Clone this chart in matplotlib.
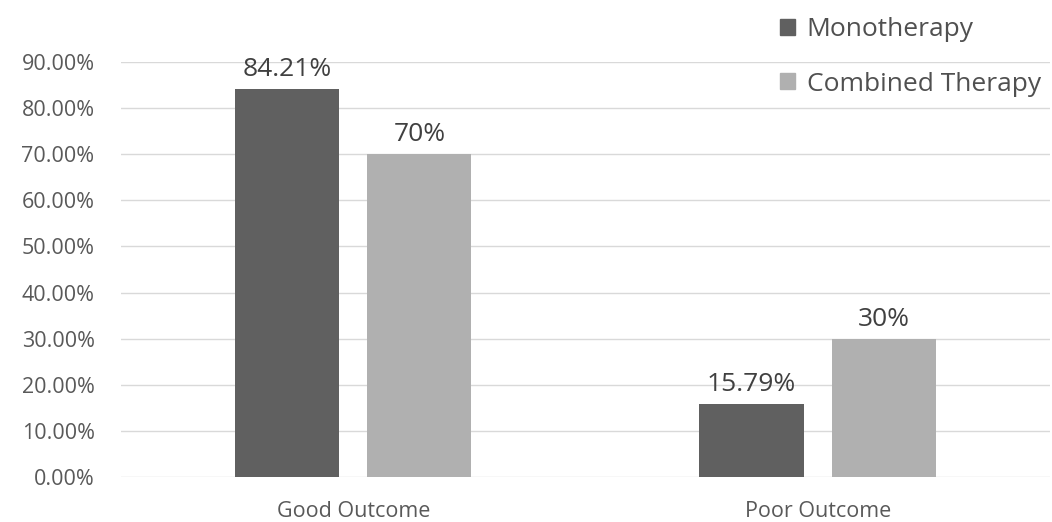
import numpy as np
import matplotlib.pyplot as plt
from matplotlib.patches import Patch
from matplotlib.ticker import FuncFormatter

# Dados
categories = ['Good Outcome', 'Poor Outcome']
series_names = ['Monotherapy', 'Combined Therapy']
monotherapy = [84.21, 15.79]
combined = [70, 30]
mono_labels = ['84.21%', '15.79%']
comb_labels = ['70%', '30%']

mono_color = '#606060'
comb_color = '#b0b0b0'
text_color = '#595959'

plt.rcParams['font.family'] = ['Open Sans', 'DejaVu Sans']

fig = plt.figure(figsize=(10.52, 5.22), dpi=100)
ax = fig.add_axes([0.115, 0.0862, 0.883, 0.795])

x = np.arange(len(categories))
w = 0.224
off = 0.1425
b1 = ax.bar(x - off, monotherapy, w, color=mono_color, zorder=3)
b2 = ax.bar(x + off, combined, w, color=comb_color, zorder=3)

for bars, labels in [(b1, mono_labels), (b2, comb_labels)]:
    for rect, lab in zip(bars, labels):
        ax.annotate(lab, (rect.get_x() + rect.get_width() / 2, rect.get_height()),
                    xytext=(0, 5), textcoords='offset points', ha='center', va='bottom',
                    fontsize=19, color='#404040', annotation_clip=False)

ax.set_xlim(-0.5, 1.5)
ax.set_ylim(0, 90)
ax.set_yticks(np.arange(0, 91, 10))
ax.yaxis.set_major_formatter(FuncFormatter(lambda v, p: f'{v:.2f}%'))
ax.set_xticks(x)
ax.set_xticklabels(categories)
ax.tick_params(axis='both', length=0, labelsize=15.5, colors=text_color)
ax.tick_params(axis='y', pad=19)
ax.tick_params(axis='x', pad=17)
ax.grid(axis='y', color='#d9d9d9', linewidth=1, zorder=0)
for s in ax.spines.values():
    s.set_visible(False)

handles = [Patch(color=mono_color), Patch(color=comb_color)]
fig.legend(handles, series_names, loc='upper right', bbox_to_anchor=(1.012, 1.013),
           frameon=False, fontsize=19, labelcolor='#505050', handlelength=0.55,
           handleheight=0.55, handletextpad=0.45, labelspacing=1.13)

fig.savefig('out.png', dpi=100, facecolor='white')
